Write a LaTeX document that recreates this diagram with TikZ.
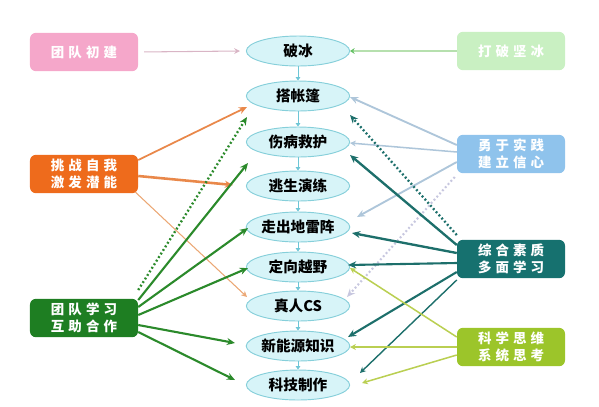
\documentclass[tikz,border=0pt]{standalone}
\usepackage{fontspec}
\setmainfont{Noto Sans CJK SC}
\newfontfamily\boxfont{Noto Sans CJK SC}[LetterSpace=30]
\usetikzlibrary{shapes.geometric,arrows.meta}
\definecolor{stagefill}{HTML}{D7F4F8}
\definecolor{stageline}{HTML}{86CFDA}
\definecolor{stepline}{HTML}{6EC6D6}
\definecolor{pinkbox}{HTML}{F5A7CA}
\definecolor{pinkline}{HTML}{D9B5C5}
\definecolor{orangebox}{HTML}{EE6B1C}
\definecolor{orangeline}{HTML}{E9884A}
\definecolor{orangethin}{HTML}{EBA774}
\definecolor{greenbox}{HTML}{1E7E22}
\definecolor{greenline}{HTML}{2B8A2B}
\definecolor{palebox}{HTML}{C9F0C2}
\definecolor{paleline}{HTML}{B6E0AE}
\definecolor{bluebox}{HTML}{8FC3EC}
\definecolor{blueline}{HTML}{AEC6DA}
\definecolor{lavdot}{HTML}{C7C7DF}
\definecolor{tealbox}{HTML}{16716F}
\definecolor{tealline}{HTML}{1D6F6B}
\definecolor{limebox}{HTML}{9CC52A}
\definecolor{limeline}{HTML}{BACF52}

\begin{document}
\begin{tikzpicture}[x=0.03cm,y=-0.03cm,
	stage/.style={ellipse,draw=stageline,fill=stagefill,line width=0.8pt,minimum width=3.1cm,minimum height=0.9cm,inner sep=0pt,font=\fontsize{12.5}{14}\selectfont\bfseries},
	goal/.style={rectangle,rounded corners=5pt,minimum width=3.24cm,minimum height=1.15cm,align=center,text=white,font=\boxfont\fontsize{11.5}{14.5}\selectfont\bfseries},
	link/.style={-{Stealth[length=7pt,width=6pt]},line width=1.8pt},
	thinlink/.style={-{Stealth[length=5pt,width=5pt]},line width=0.9pt},
	dotlink/.style={-{Stealth[length=7pt,width=6pt]},line width=2pt,dash pattern=on 1.6pt off 2pt},
	steplink/.style={-{Triangle[length=3pt,width=4pt]},stepline,line width=0.8pt}]
	\useasboundingbox (0,0) rectangle (599,406);
	% stages
	\node[stage] (n1) at (298,51) {破冰};
	\node[stage] (n2) at (298,96) {搭帐篷};
	\node[stage] (n3) at (298,142) {伤病救护};
	\node[stage] (n4) at (298,186) {逃生演练};
	\node[stage] (n5) at (298,227) {走出地雷阵};
	\node[stage] (n6) at (298,267) {定向越野};
	\node[stage] (n7) at (298,306) {真人CS};
	\node[stage] (n8) at (298,346) {新能源知识};
	\node[stage] (n9) at (298,385) {科技制作};
	\draw[steplink] (n1) -- (n2);
	\draw[steplink] (n2) -- (n3);
	\draw[steplink] (n3) -- (n4);
	\draw[steplink] (n4) -- (n5);
	\draw[steplink] (n5) -- (n6);
	\draw[steplink] (n6) -- (n7);
	\draw[steplink] (n7) -- (n8);
	\draw[steplink] (n8) -- (n9);
	% goals
	\node[goal,fill=pinkbox] (L1) at (84,52) {团队初建};
	\node[goal,fill=orangebox] (L2) at (84,174) {挑战自我\\激发潜能};
	\node[goal,fill=greenbox] (L3) at (84,318) {团队学习\\互助合作};
	\node[goal,fill=palebox] (R1) at (511,51) {打破坚冰};
	\node[goal,fill=bluebox] (R2) at (511,154) {勇于实践\\建立信心};
	\node[goal,fill=tealbox] (R3) at (511,259) {综合素质\\多面学习};
	\node[goal,fill=limebox] (R4) at (511,347) {科学思维\\系统思考};
	% left links
	\draw[thinlink,pinkline,shorten <=5pt] (L1.east) -- ([shift={(-58,0)}]n1.center);
	\draw[link,orangeline,line width=1.5pt] ([shift={(0,-14)}]L2.east) -- ([shift={(-51,11)}]n2.center);
	\draw[link,orangeline,line width=2.2pt] ([shift={(0,2)}]L2.east) -- ([shift={(-65,-1)}]n4.center);
	\draw[thinlink,orangethin] ([shift={(-3,18)}]L2.east) -- ([shift={(-51,-9)}]n7.center);
	\draw[dotlink,greenline] ([shift={(0,-28)}]L3.east) -- ([shift={(-51,21)}]n2.center);
	\draw[link,greenline] ([shift={(0,-18)}]L3.east) -- ([shift={(-50,-23)}]n4.center);
	\draw[link,greenline] ([shift={(0,-11)}]L3.east) -- ([shift={(-50,1)}]n5.center);
	\draw[link,greenline] ([shift={(0,-3)}]L3.east) -- ([shift={(-50,1)}]n6.center);
	\draw[link,greenline] ([shift={(0,7)}]L3.east) -- ([shift={(-63,-3)}]n8.center);
	\draw[link,greenline] ([shift={(0,14)}]L3.east) -- ([shift={(-63,-5)}]n9.center);
	% right links
	\draw[thinlink,paleline,-{Stealth[length=4pt,width=5pt,green!60!black!60]}] (R1.west) -- ([shift={(52,0)}]n1.center);
	\draw[link,blueline,line width=1.6pt] ([shift={(0,-9)}]R2.west) -- ([shift={(52,1)}]n2.center);
	\draw[thinlink,blueline,line width=1.3pt] ([shift={(0,-2)}]R2.west) -- ([shift={(52,1)}]n3.center);
	\draw[link,blueline,line width=1.6pt] ([shift={(0,8)}]R2.west) -- ([shift={(59,-10)}]n5.center);
	\draw[dotlink,lavdot,line width=1.8pt] ([shift={(-2,23)}]R2.west) -- ([shift={(49,-9)}]n7.center);
	\draw[dotlink,tealline] ([shift={(0,-24)}]R3.west) -- ([shift={(52,19)}]n2.center);
	\draw[link,tealline,line width=2pt] ([shift={(0,-14)}]R3.west) -- ([shift={(52,13)}]n3.center);
	\draw[link,tealline,line width=2pt] ([shift={(0,-6)}]R3.west) -- ([shift={(54,6)}]n5.center);
	\draw[link,tealline] ([shift={(0,4)}]R3.west) -- ([shift={(50,-2)}]n6.center);
	\draw[link,tealline] ([shift={(0,13)}]R3.west) -- ([shift={(50,-9)}]n8.center);
	\draw[thinlink,tealline,line width=1.2pt] ([shift={(0,21)}]R3.west) -- ([shift={(62,-12)}]n9.center);
	\draw[thinlink,limeline,line width=1.3pt] ([shift={(0,-10)}]R4.west) -- ([shift={(52,1)}]n6.center);
	\draw[thinlink,limeline,line width=1.3pt] (R4.west) -- ([shift={(52,1)}]n8.center);
	\draw[thinlink,limeline,line width=1.3pt] ([shift={(0,8)}]R4.west) -- ([shift={(64,-2)}]n9.center);
\end{tikzpicture}
\end{document}
